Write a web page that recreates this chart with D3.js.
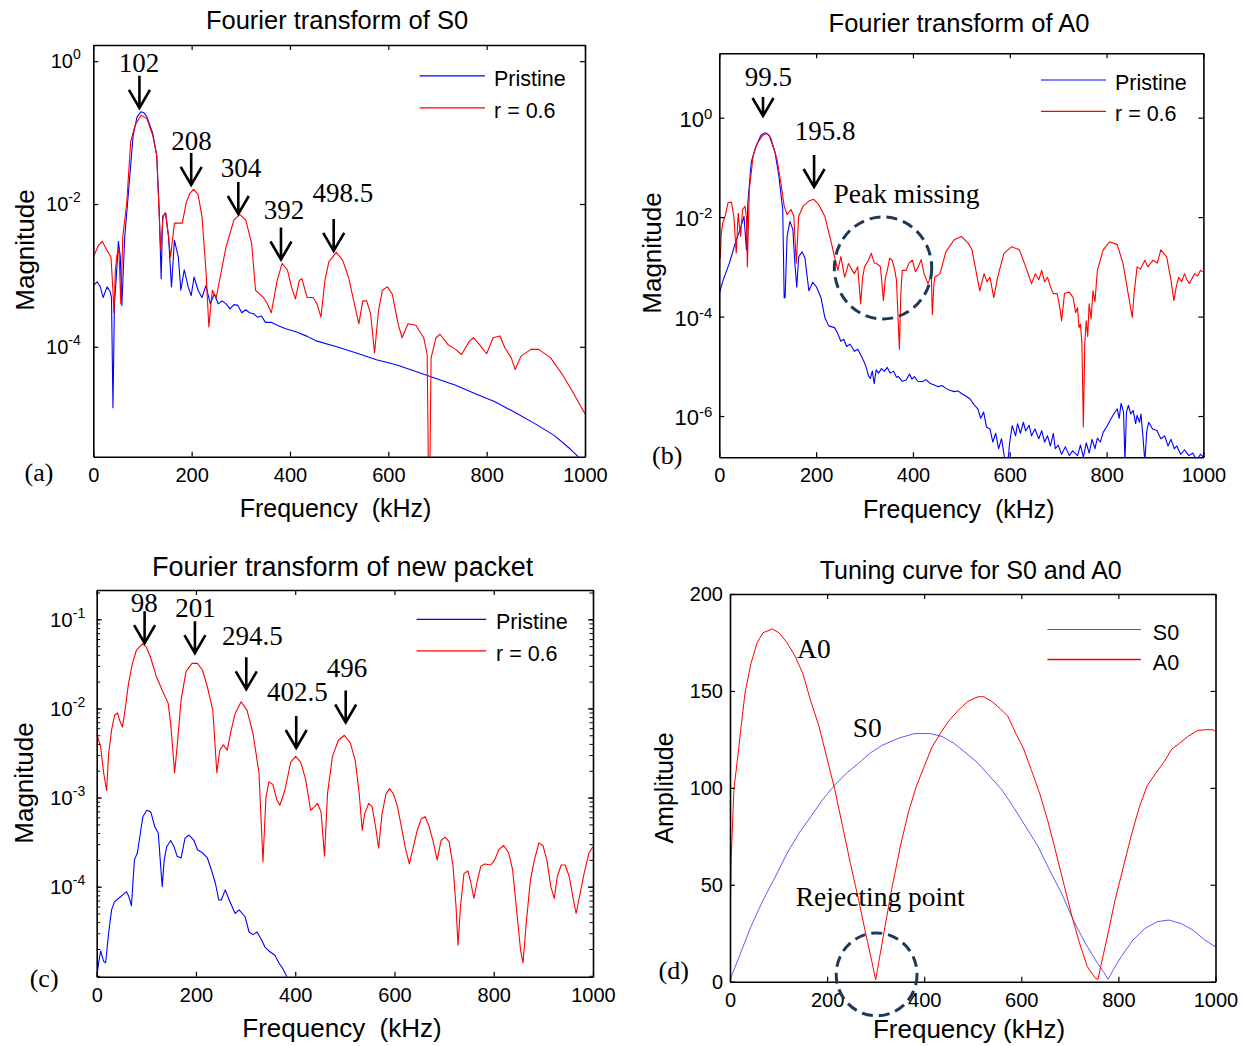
<!DOCTYPE html>
<html><head><meta charset="utf-8">
<script src="https://cdn.jsdelivr.net/npm/d3@7"></script>
<style>body{margin:0;background:#fff}svg{display:block}</style>
</head><body>
<svg id="chart" width="1244" height="1046"></svg>
<script>
// ---------------- DATA ----------------
const freqTicks = [0, 200, 400, 600, 800, 1000];
const seriesNames = ["Pristine", "r = 0.6"];
const tuningNames = ["S0", "A0"];

// (a) Fourier transform of S0   [frequency kHz, magnitude]
const s0Pristine = [[0,7.2e-4],[8,8.1e-4],[14,7.0e-4],[20,4.9e-4],[28,6.9e-4],[34,6.0e-4],[37,4.9e-4],[40,1.4e-5],[43,4.0e-4],[47,1.0e-3],[51,3.0e-3],[55,1.8e-3],[58,3.8e-4],[64,3.5e-3],[72,1.6e-2],[81,9.1e-2],[89,0.166],[97,0.196],[103,0.19],[109,0.166],[121,9.7e-2],[129,4.8e-2],[134,8.4e-3],[138,9.0e-4],[141,6.7e-3],[147,7.5e-3],[153,3.5e-3],[159,6.9e-4],[165,3.1e-3],[173,1.8e-3],[178,6.2e-4],[185,1.2e-3],[193,6.9e-4],[199,5.2e-4],[205,9.5e-4],[213,6.2e-4],[221,4.9e-4],[229,7.2e-4],[238,4.0e-4],[246,5.5e-4],[254,4.0e-4],[262,4.4e-4],[270,4.0e-4],[278,3.4e-4],[286,3.9e-4],[294,3.8e-4],[302,3.0e-4],[310,3.3e-4],[318,3.0e-4],[326,2.9e-4],[334,2.6e-4],[342,2.7e-4],[350,2.2e-4],[362,2.2e-4],[374,2.0e-4],[390,1.8e-4],[415,1.6e-4],[435,1.4e-4],[455,1.2e-4],[495,1.0e-4],[535,8.2e-5],[576,6.6e-5],[616,5.6e-5],[656,4.5e-5],[697,3.6e-5],[737,2.9e-5],[777,2.2e-5],[817,1.7e-5],[858,1.2e-5],[898,8.4e-6],[938,5.7e-6],[970,3.7e-6],[986,2.9e-6],[1000,2.2e-6]];
const s0Damaged = [[0,1.8e-3],[10,2.6e-3],[18,3.0e-3],[27,2.3e-3],[36,1.8e-3],[40,6e-4],[42,3.0e-4],[45,1.2e-3],[48,1.9e-3],[52,2.3e-3],[56,4.0e-4],[60,3.5e-3],[68,1.04e-2],[76,7.4e-2],[85,0.127],[97,0.175],[109,0.157],[121,9.1e-2],[129,4.8e-2],[133,1.04e-2],[137,2.3e-3],[142,6.7e-3],[147,7.5e-3],[153,3.5e-3],[157,1.8e-3],[165,5.4e-3],[181,5.4e-3],[189,1.04e-2],[196,1.4e-2],[204,1.6e-2],[213,1.36e-2],[221,6.7e-3],[229,1.2e-3],[235,1.9e-4],[242,6.2e-4],[250,4.9e-4],[258,9.5e-4],[270,2.5e-3],[286,6.0e-3],[298,7.1e-3],[310,6.0e-3],[322,2.8e-3],[330,6.2e-4],[338,5.5e-4],[346,4.9e-4],[354,4.0e-4],[362,3.0e-4],[374,8.5e-4],[384,1.47e-3],[395,1.18e-3],[403,6.9e-4],[411,4.7e-4],[419,8.5e-4],[424,9.0e-4],[435,4.9e-4],[447,4.9e-4],[455,4.0e-4],[463,2.6e-4],[471,8.5e-4],[479,1.55e-3],[494,2.1e-3],[507,1.64e-3],[519,9.5e-4],[531,4.0e-4],[540,2.1e-4],[548,4.4e-4],[556,4.4e-4],[564,2.9e-4],[572,8.2e-5],[580,3.2e-4],[588,6.2e-4],[598,6.9e-4],[608,5.5e-4],[620,2.1e-4],[628,1.34e-4],[640,2.1e-4],[656,2.0e-4],[672,1.34e-4],[679,7.8e-5],[682,1e-6],[684,1e-6],[687,7.0e-5],[697,1.34e-4],[705,1.5e-4],[721,1.08e-4],[737,9.2e-5],[749,7.8e-5],[765,1.2e-4],[773,1.34e-4],[785,1.08e-4],[800,8.0e-5],[813,1.34e-4],[827,1.42e-4],[837,9.7e-5],[850,7.0e-5],[858,4.8e-5],[870,7.4e-5],[890,9.2e-5],[906,9.2e-5],[930,7.0e-5],[954,4.1e-5],[974,2.4e-5],[1000,1.15e-5]];

// (b) Fourier transform of A0
const a0Pristine = [[0,2.9e-4],[8,5.4e-4],[21,1.2e-3],[33,3.0e-3],[45,6.5e-3],[51,1.04e-2],[56,2.2e-3],[59,1.95e-2],[66,0.127],[74,0.237],[86,0.443],[95,0.50],[103,0.443],[115,0.203],[123,6.8e-2],[131,1.42e-2],[134,2.4e-4],[136,2.4e-4],[140,4.1e-3],[146,8.2e-3],[152,5.6e-3],[156,1.2e-3],[160,3.9e-4],[164,1.6e-3],[171,2.0e-3],[177,1.5e-3],[185,3.3e-4],[193,4.9e-4],[201,3.9e-4],[210,2.4e-4],[218,9.6e-5],[226,6.5e-5],[238,6.0e-5],[245,4.5e-5],[251,3.2e-5],[257,3.5e-5],[263,2.5e-5],[270,2.8e-5],[279,2.0e-5],[286,2.2e-5],[292,1.7e-5],[298,1.3e-5],[304,9.2e-6],[308,6.5e-6],[312,5.7e-6],[316,8.0e-6],[320,4.5e-6],[324,8.5e-6],[329,7.3e-6],[335,9.0e-6],[341,7.9e-6],[347,9.5e-6],[353,7.3e-6],[360,8.0e-6],[366,6.0e-6],[370,6.2e-6],[378,5.0e-6],[386,5.3e-6],[393,7.0e-6],[398,5.5e-6],[403,6.2e-6],[410,5.0e-6],[419,4.9e-6],[427,5.4e-6],[436,4.5e-6],[444,4.2e-6],[452,3.9e-6],[460,4.1e-6],[468,3.6e-6],[476,3.3e-6],[485,3.1e-6],[493,3.2e-6],[501,2.8e-6],[510,2.5e-6],[518,2.2e-6],[526,1.7e-6],[534,1.4e-6],[540,9e-7],[546,1.2e-6],[552,6e-7],[559,5.5e-7],[565,3e-7],[571,4.5e-7],[577,2.2e-7],[583,3.5e-7],[590,1.3e-7],[596,1.2e-7],[600,3.0e-7],[605,6.4e-7],[612,4e-7],[616,7.0e-7],[622,4.5e-7],[628,7.5e-7],[633,5e-7],[640,6.5e-7],[645,4e-7],[652,5.5e-7],[660,3.5e-7],[666,5.1e-7],[672,3.0e-7],[678,4.0e-7],[684,2.5e-7],[690,4.5e-7],[694,2.2e-7],[700,2.6e-7],[707,1.7e-7],[715,2.4e-7],[723,1.6e-7],[730,2.0e-7],[740,1.6e-7],[746,2.6e-7],[752,1.5e-7],[758,2.9e-7],[764,1.8e-7],[770,3.4e-7],[776,2.2e-7],[781,3.6e-7],[787,3.0e-7],[793,4.7e-7],[800,6.0e-7],[809,8.8e-7],[815,1.1e-6],[822,1.4e-6],[826,9e-7],[830,1.8e-6],[835,1.2e-6],[838,1.2e-7],[841,1.2e-6],[845,1.64e-6],[850,1.1e-6],[855,1.3e-6],[860,7e-7],[863,1.03e-6],[868,7.5e-7],[871,1.1e-6],[875,4e-7],[879,1.2e-7],[883,5e-7],[887,7.5e-7],[895,5.5e-7],[904,5.1e-7],[912,3.5e-7],[920,4.0e-7],[927,2.5e-7],[933,3.4e-7],[940,2.2e-7],[945,2.5e-7],[953,1.7e-7],[961,2.1e-7],[970,1.6e-7],[978,1.8e-7],[986,1.3e-7],[994,1.7e-7],[1000,1.5e-7]];
const a0Damaged = [[0,3.0e-3],[2,1.5e-3],[4,4.5e-3],[7,7.6e-3],[12,1.04e-2],[18,1.95e-2],[25,2.0e-2],[30,1.04e-2],[35,1.9e-3],[39,1.2e-2],[44,4.1e-3],[48,1.4e-2],[53,1.66e-2],[56,1.0e-2],[58,1.0e-3],[62,3.6e-2],[70,0.174],[78,0.30],[90,0.443],[99,0.48],[107,0.38],[119,0.149],[127,5.0e-2],[134,1.66e-2],[140,1.13e-2],[148,1.42e-2],[154,1.04e-2],[159,1.17e-3],[164,1.04e-2],[173,1.66e-2],[185,2.1e-2],[195,2.28e-2],[205,1.8e-2],[218,1.04e-2],[230,3.5e-3],[238,1.6e-3],[245,8.5e-4],[251,1.6e-3],[259,6.2e-4],[267,1.17e-3],[273,9e-4],[279,7.3e-4],[286,1.0e-3],[292,1.8e-4],[296,6e-4],[300,1.0e-3],[308,1.36e-3],[314,1.87e-3],[320,1.2e-3],[325,1.17e-3],[333,1.0e-3],[339,2.1e-4],[343,6e-4],[347,8.5e-4],[352,1.5e-3],[357,1.36e-3],[362,9e-4],[366,5.4e-4],[372,2.2e-5],[375,3e-4],[378,8.5e-4],[386,8.5e-4],[392,1.2e-3],[399,1.36e-3],[405,8e-4],[411,1.0e-3],[417,1.4e-3],[423,7.3e-4],[431,4.6e-4],[438,7e-4],[440,1.1e-4],[443,4e-4],[445,6.2e-4],[456,7.3e-4],[468,2.0e-3],[485,3.5e-3],[500,4.1e-3],[514,3.0e-3],[522,2.2e-3],[530,8.5e-4],[538,3.3e-4],[547,7.3e-4],[553,5e-4],[559,6.2e-4],[567,2.4e-4],[575,6.2e-4],[588,1.87e-3],[604,2.55e-3],[620,2.2e-3],[633,1.0e-3],[645,4.6e-4],[653,7.3e-4],[660,5.5e-4],[666,8.5e-4],[672,5e-4],[678,6.2e-4],[684,4e-4],[690,2.9e-4],[698,2.9e-4],[704,1.4e-4],[707,8.2e-5],[710,1.5e-4],[713,2.9e-4],[723,3.1e-4],[731,2.4e-4],[736,1.2e-4],[740,1.5e-4],[743,6e-5],[746,7e-5],[749,3e-5],[752,6e-7],[755,3e-5],[758,8.2e-5],[761,4e-5],[764,1.8e-4],[768,9e-5],[772,3.3e-4],[776,2e-4],[781,8.5e-4],[793,2.2e-3],[806,3.2e-3],[822,2.8e-3],[834,1.17e-3],[846,2.4e-4],[853,9.6e-5],[857,3e-4],[863,1.0e-3],[870,9e-4],[879,1.36e-3],[885,1e-3],[896,1.36e-3],[905,1.2e-3],[912,2.2e-3],[924,1.6e-3],[933,5.4e-4],[939,2.1e-4],[944,4e-4],[949,6.2e-4],[955,5e-4],[961,7.3e-4],[966,5.5e-4],[971,4.6e-4],[977,6e-4],[982,7.3e-4],[988,6.5e-4],[994,8.5e-4],[1000,7.9e-4]];

// (c) Fourier transform of new packet
const newPristine = [[0,9.8e-6],[4,1.4e-5],[8,1.9e-5],[14,1.45e-5],[18,1.4e-5],[24,3.0e-5],[30,5.5e-5],[36,6.8e-5],[48,7.7e-5],[60,8.8e-5],[65,7.7e-5],[70,6.1e-5],[76,2.0e-4],[82,2.4e-4],[88,4.0e-4],[93,6.1e-4],[101,7.2e-4],[109,6.9e-4],[117,4.7e-4],[124,4.0e-4],[128,2.0e-4],[132,1.0e-4],[136,2.0e-4],[141,2.8e-4],[149,3.3e-4],[156,2.8e-4],[162,2.2e-4],[170,2.1e-4],[178,3.5e-4],[186,3.8e-4],[196,3.3e-4],[203,2.6e-4],[213,2.4e-4],[223,2.1e-4],[231,1.55e-4],[239,1.1e-4],[246,7.1e-5],[251,7.1e-5],[259,9.2e-5],[267,7.1e-5],[279,5.0e-5],[287,5.5e-5],[299,4.6e-5],[307,3.1e-5],[315,2.9e-5],[323,3.1e-5],[331,2.6e-5],[339,2.1e-5],[347,1.9e-5],[359,1.7e-5],[367,1.4e-5],[375,1.2e-5],[383,9.8e-6],[390,8e-6]];
const newDamaged = [[0,5.2e-3],[8,3.7e-3],[14,1.9e-3],[20,1.2e-3],[24,3.1e-3],[30,5.7e-3],[36,8.4e-3],[42,8.9e-3],[46,7.4e-3],[52,6.2e-3],[58,1.04e-2],[64,1.9e-2],[72,3.2e-2],[80,4.5e-2],[92,5.3e-2],[100,4.9e-2],[108,3.8e-2],[120,2.3e-2],[132,1.6e-2],[144,1.14e-2],[149,6.8e-3],[157,1.9e-3],[162,3.7e-3],[170,1.24e-2],[180,2.6e-2],[192,3.2e-2],[203,3.2e-2],[213,2.7e-2],[223,1.75e-2],[234,9.5e-3],[242,1.9e-3],[248,3.4e-3],[255,3.9e-3],[263,3.4e-3],[271,5.7e-3],[279,8.8e-3],[291,1.19e-2],[303,9.5e-3],[315,5.2e-3],[327,1.9e-3],[335,1.9e-4],[341,1.0e-3],[347,1.5e-3],[355,1.4e-3],[363,9.4e-4],[369,8.2e-4],[379,1.2e-3],[391,2.5e-3],[401,2.9e-3],[411,2.5e-3],[421,1.6e-3],[431,7.2e-4],[439,7.9e-4],[445,8.6e-4],[452,6.9e-4],[459,2.2e-4],[465,1.1e-3],[475,2.9e-3],[487,4.4e-3],[499,5.0e-3],[511,4.1e-3],[521,2.6e-3],[529,1.1e-3],[535,4.3e-4],[540,6.6e-4],[548,8.6e-4],[555,7.9e-4],[563,4.3e-4],[568,2.7e-4],[575,6.6e-4],[583,1.1e-3],[590,1.26e-3],[598,1.1e-3],[606,7.9e-4],[614,4.7e-4],[622,2.7e-4],[630,1.8e-4],[638,2.8e-4],[646,4.3e-4],[654,5.8e-4],[662,6.1e-4],[670,4.7e-4],[678,3.2e-4],[686,2.0e-4],[694,3.3e-4],[702,3.6e-4],[710,3.2e-4],[718,1.7e-4],[724,6.0e-5],[728,2.2e-5],[733,6.0e-5],[740,1.4e-4],[748,1.5e-4],[754,1.1e-4],[760,7.4e-5],[766,1.1e-4],[774,1.7e-4],[782,1.8e-4],[794,1.75e-4],[802,2.0e-4],[810,2.6e-4],[820,2.9e-4],[830,2.4e-4],[838,1.55e-4],[846,5.5e-5],[854,1.95e-5],[859,1.4e-5],[866,4.2e-5],[874,1.2e-4],[882,2.0e-4],[891,3.1e-4],[899,2.9e-4],[907,2.0e-4],[915,1.0e-4],[922,7.4e-5],[928,1.3e-4],[936,1.75e-4],[944,1.75e-4],[952,1.3e-4],[960,7.4e-5],[966,5.0e-5],[974,8.4e-5],[982,1.4e-4],[992,2.4e-4],[1000,2.8e-4]];

// (d) Tuning curve for S0 and A0   [frequency kHz, amplitude]
const tuningS0 = [[0,0.9],[19,13],[43,28.4],[68,42],[93,54],[117,66],[142,76.6],[166,85],[191,94],[216,101.5],[240,107.6],[265,112.7],[289,118],[314,122],[347,125.6],[380,128],[412,128],[437,126.5],[461,123],[486,118],[511,112.7],[535,106],[560,99],[584,90],[609,80],[634,70],[658,57.7],[683,45.6],[707,31.8],[732,19.8],[757,9.5],[769,5.2],[779,1.2],[789,6],[806,13],[830,21.5],[855,27.5],[880,31],[904,31.8],[929,30],[953,26.7],[978,21.5],[1000,18]];
const tuningA0 = [[0,26.7],[2.5,64.5],[8,99],[15,114],[23,132],[31,149],[43,164],[56,175],[68,180],[87,182],[101,180],[117,175],[134,168],[150,159],[166,145],[183,132],[199,116],[216,99],[232,80],[248,61],[265,42],[281,23],[293,9.5],[300,0.9],[306,9.5],[318,26.7],[334,49],[351,70],[367,87],[384,101],[400,111],[416,121],[433,128],[449,134],[470,140],[490,144.6],[511,147],[523,147],[539,144.6],[556,141],[572,137],[589,128],[605,120],[621,109],[638,97],[654,83.5],[670,68],[687,51],[703,35],[720,19.8],[736,7.7],[753,1.7],[758,1.2],[765,9.5],[777,23],[793,42],[810,59],[826,75],[843,90],[859,101],[877,107.6],[893,113],[910,120],[926,123],[943,126.5],[963,129.6],[979,130],[995,130],[1000,129]];

// y ticks
const yTicksA = [1e-4, 1e-2, 1];      const yExpA = ["-4", "-2", "0"];
const yTicksB = [1e-6, 1e-4, 1e-2, 1]; const yExpB = ["-6", "-4", "-2", "0"];
const yTicksC = [1e-4, 1e-3, 1e-2, 1e-1]; const yExpC = ["-4", "-3", "-2", "-1"];
const yTicksD = [0, 50, 100, 150, 200];

// peak annotations: label, arrow frequency (kHz), arrow tip magnitude
const peakLabelsA = ["102", "208", "304", "392", "498.5"];
const peakFreqA = [93.8, 199.1, 294.9, 381.7, 488.9];
const peakTipA = [0.222, 1.85e-2, 7.24e-3, 1.67e-3, 2.2e-3];
const peakLabelsB = ["99.5", "195.8"];
const peakFreqB = [90.3, 195.8];
const peakTipB = [1.08, 4.04e-2];
const peakLabelsC = ["98", "201", "294.5", "402.5", "496"];
const peakFreqC = [96.5, 197.9, 301.4, 402, 501.7];
const peakTipC = [5.4e-2, 4.17e-2, 1.64e-2, 3.6e-3, 6.95e-3];

// ---------------- DRAWING ----------------
const SANS = '"Liberation Sans", Arial, Helvetica, sans-serif';
const SERIF = '"Liberation Serif", "Times New Roman", Times, serif';
const BLUE = "#0000ff", RED = "#ff0000", NAVY = "#1f3854", LIGHTBLUE = "#4a4aff";
const svg = d3.select("#chart");
const defs = svg.append("defs");

function drawPanel(p) {
  const b = p.box;
  const x = d3.scaleLinear().domain([0, 1000]).range([b.left, b.right]);
  const y = (p.log ? d3.scaleLog() : d3.scaleLinear()).domain(p.yDomain).range([b.bottom, b.top]);
  const g = svg.append("g");
  defs.append("clipPath").attr("id", "clip" + p.id).append("rect")
    .attr("x", b.left).attr("y", b.top).attr("width", b.right - b.left).attr("height", b.bottom - b.top);

  const line = d3.line().x(d => x(d[0])).y(d => y(d[1]));
  const plot = g.append("g").attr("clip-path", `url(#clip${p.id})`);
  p.series.forEach(s => plot.append("path").attr("d", line(s.data)).attr("fill", "none")
    .attr("stroke", s.color).attr("stroke-width", s.width).attr("stroke-linejoin", "round"));

  const styleAxis = sel => {
    sel.attr("font-family", SANS).attr("font-size", 20);
    sel.select(".domain").attr("stroke", "#000").attr("stroke-width", 1.6);
    sel.selectAll(".tick line").attr("stroke", "#000").attr("stroke-width", 1.2);
    sel.selectAll(".tick text").attr("fill", "#000");
  };
  g.append("g").attr("transform", `translate(0,${b.bottom})`)
    .call(d3.axisBottom(x).tickValues(freqTicks).tickFormat(d3.format("d")).tickSizeInner(-5).tickSizeOuter(0).tickPadding(11))
    .call(styleAxis);
  g.append("g").attr("transform", `translate(0,${b.top})`)
    .call(d3.axisTop(x).tickValues(freqTicks).tickFormat(() => "").tickSizeInner(-5).tickSizeOuter(0))
    .call(styleAxis);
  const left = d3.axisLeft(y).tickValues(p.yTicks).tickSizeInner(-5).tickSizeOuter(0).tickPadding(7);
  left.tickFormat(p.log ? () => "" : d3.format("d"));
  g.append("g").attr("transform", `translate(${b.left},0)`).call(left).call(styleAxis);
  g.append("g").attr("transform", `translate(${b.right},0)`)
    .call(d3.axisRight(y).tickValues(p.yTicks).tickFormat(() => "").tickSizeInner(-5).tickSizeOuter(0))
    .call(styleAxis);
  if (p.minor) {
    const minors = y.ticks().filter(v => v >= p.yDomain[0] && v <= p.yDomain[1]);
    [[d3.axisLeft, b.left], [d3.axisRight, b.right]].forEach(([ax, pos]) => {
      const m = g.append("g").attr("transform", `translate(${pos},0)`)
        .call(ax(y).tickValues(minors).tickFormat(() => "").tickSizeInner(-3.5).tickSizeOuter(0));
      m.select(".domain").remove();
      m.selectAll(".tick line").attr("stroke", "#000").attr("stroke-width", 1);
    });
  }
  if (p.log) {
    p.yTicks.forEach((v, i) => {
      const t = g.append("text").attr("x", b.left - p.ylab.gap).attr("y", y(v) + p.ylab.dy)
        .attr("text-anchor", "end").attr("font-family", SANS).attr("font-size", p.ylab.size).attr("fill", "#000");
      t.append("tspan").text("10");
      t.append("tspan").attr("dy", -p.ylab.raise).attr("font-size", p.ylab.sup).text(p.yExp[i]);
    });
  }

  // title and axis labels
  g.append("text").attr("x", p.title.x).attr("y", p.title.y).attr("text-anchor", "middle")
    .attr("font-family", SANS).attr("font-size", p.title.size).text(p.title.text);
  g.append("text").attr("x", p.xlab.x).attr("y", p.xlab.y).attr("text-anchor", "middle")
    .attr("font-family", SANS).attr("font-size", p.xlab.size).text(p.xlab.text);
  g.append("text").attr("transform", `translate(${p.ylabT.x},${p.ylabT.y}) rotate(-90)`).attr("text-anchor", "middle")
    .attr("font-family", SANS).attr("font-size", p.ylabT.size).text(p.ylabT.text);
  g.append("text").attr("x", p.tag.x).attr("y", p.tag.y).attr("font-family", SERIF).attr("font-size", 26).text(p.tag.text);

  // legend
  p.legend.items.forEach((it, i) => {
    const ly = p.legend.y[i];
    g.append("line").attr("x1", p.legend.x1).attr("x2", p.legend.x2).attr("y1", ly).attr("y2", ly)
      .attr("stroke", it.color).attr("stroke-width", it.width || 1.2);
    g.append("text").attr("x", p.legend.tx).attr("y", ly + 10).attr("font-family", SANS)
      .attr("font-size", 21.5).text(it.name);
  });

  // arrows
  (p.arrows || []).forEach(a => {
    const ax = x(a.f), tip = y(a.tip), len = a.len || 32;
    g.append("path").attr("d", `M${ax},${tip - len}L${ax},${tip}M${ax - 10.5},${tip - 18}L${ax},${tip}L${ax + 10.5},${tip - 18}`)
      .attr("fill", "none").attr("stroke", "#000").attr("stroke-width", 2.6).attr("stroke-linejoin", "miter");
    g.append("text").attr("x", ax + a.dx).attr("y", tip + a.dy).attr("text-anchor", "middle")
      .attr("font-family", SERIF).attr("font-size", 27).text(a.label);
  });
  (p.notes || []).forEach(n => {
    g.append("text").attr("x", x(n.f)).attr("y", y(n.v)).attr("font-family", SERIF)
      .attr("font-size", 27.5).text(n.text);
  });
  (p.circles || []).forEach(c => {
    g.append("ellipse").attr("cx", x(c.f)).attr("cy", y(c.v)).attr("rx", c.rx).attr("ry", c.ry)
      .attr("fill", "none").attr("stroke", NAVY).attr("stroke-width", 3).attr("stroke-dasharray", "11 6");
  });
}

const mkArrows = (labels, freqs, tips, offs, lens) => labels.map((l, i) => ({
  label: l, f: freqs[i], tip: tips[i], dx: offs[i][0], dy: offs[i][1], len: lens ? lens[i] : 32 }));

// (a)
drawPanel({
  id: "a", log: true, box: {left: 93.3, right: 585, top: 45, bottom: 456.7},
  yDomain: [2.89e-6, 1.686], yTicks: yTicksA, yExp: yExpA,
  ylab: {gap: 12.5, dy: 7, size: 20, sup: 14, raise: 9},
  series: [{data: s0Pristine, color: BLUE, width: 1.1}, {data: s0Damaged, color: RED, width: 1.1}],
  title: {text: "Fourier transform of S0", x: 337, y: 28.5, size: 25.5},
  xlab: {text: "Frequency\u00A0\u00A0(kHz)", x: 335.5, y: 517, size: 25},
  ylabT: {text: "Magnitude", x: 33.5, y: 250, size: 26},
  tag: {text: "(a)", x: 24.5, y: 481},
  legend: {x1: 419.6, x2: 485, tx: 494, y: [75.8, 107.9],
    items: [{name: seriesNames[0], color: BLUE}, {name: seriesNames[1], color: RED}]},
  arrows: mkArrows(peakLabelsA, peakFreqA, peakTipA, [[-0.4, -36], [0.4, -35], [2.7, -37], [3, -40.5], [9.3, -49]])
});

// (b)
drawPanel({
  id: "b", log: true, box: {left: 719.3, right: 1203.4, top: 53.3, bottom: 457.3},
  yDomain: [1.48e-7, 19.7], yTicks: yTicksB, yExp: yExpB,
  ylab: {gap: 7, dy: 9, size: 22, sup: 15, raise: 8},
  series: [{data: a0Pristine, color: BLUE, width: 1.1}, {data: a0Damaged, color: RED, width: 1.1}],
  title: {text: "Fourier transform of A0", x: 959, y: 32, size: 25.5},
  xlab: {text: "Frequency\u00A0\u00A0(kHz)", x: 958.8, y: 518, size: 25},
  ylabT: {text: "Magnitude", x: 661, y: 253, size: 26},
  tag: {text: "(b)", x: 652, y: 464},
  legend: {x1: 1041, x2: 1106, tx: 1115, y: [80, 111.4],
    items: [{name: seriesNames[0], color: BLUE}, {name: seriesNames[1], color: RED}]},
  arrows: mkArrows(peakLabelsB, peakFreqB, peakTipB, [[5.3, -30], [11, -47]], [19, 32]),
  notes: [{text: "Peak missing", f: 235.9, v: 1.92e-2}],
  circles: [{f: 338.2, v: 9.5e-4, rx: 48.7, ry: 51}]
});

// (c)
drawPanel({
  id: "c", log: true, minor: true, box: {left: 96.7, right: 593, top: 590, bottom: 976.7},
  yDomain: [9.77e-6, 0.2133], yTicks: yTicksC, yExp: yExpC,
  ylab: {gap: 11.5, dy: 7.5, size: 20.5, sup: 14, raise: 9},
  series: [{data: newPristine, color: BLUE, width: 1.1}, {data: newDamaged, color: RED, width: 1.1}],
  title: {text: "Fourier transform of new packet", x: 342.6, y: 576, size: 27},
  xlab: {text: "Frequency\u00A0\u00A0(kHz)", x: 342, y: 1037, size: 26},
  ylabT: {text: "Magnitude", x: 33, y: 783, size: 26},
  tag: {text: "(c)", x: 29.7, y: 987},
  legend: {x1: 416.6, x2: 486.3, tx: 496, y: [619.3, 650.9],
    items: [{name: seriesNames[0], color: BLUE}, {name: seriesNames[1], color: RED}]},
  arrows: mkArrows(peakLabelsC, peakFreqC, peakTipC, [[-0.4, -31.6], [0.7, -36.6], [6, -44], [1.2, -46.5], [1.3, -46]])
});

// (d)
drawPanel({
  id: "d", log: false, box: {left: 730, right: 1215.5, top: 594, bottom: 981.7},
  yDomain: [0, 200], yTicks: yTicksD,
  series: [{data: tuningS0, color: LIGHTBLUE, width: 0.9}, {data: tuningA0, color: RED, width: 1}],
  title: {text: "Tuning curve for S0 and A0", x: 970.7, y: 578.5, size: 25},
  xlab: {text: "Frequency (kHz)", x: 969, y: 1038, size: 26},
  ylabT: {text: "Amplitude", x: 673, y: 788, size: 25},
  tag: {text: "(d)", x: 658.6, y: 979},
  legend: {x1: 1047.4, x2: 1140.9, tx: 1152.8, y: [629.5, 659.5],
    items: [{name: tuningNames[0], color: LIGHTBLUE, width: 1}, {name: tuningNames[1], color: RED, width: 1.3}]},
  notes: [{text: "A0", f: 138.1, v: 167.2}, {text: "S0", f: 252.8, v: 126}, {text: "Rejecting point", f: 135.5, v: 39}],
  circles: [{f: 302, v: 3.77, rx: 40.4, ry: 41.4}]
});
</script>
</body></html>
